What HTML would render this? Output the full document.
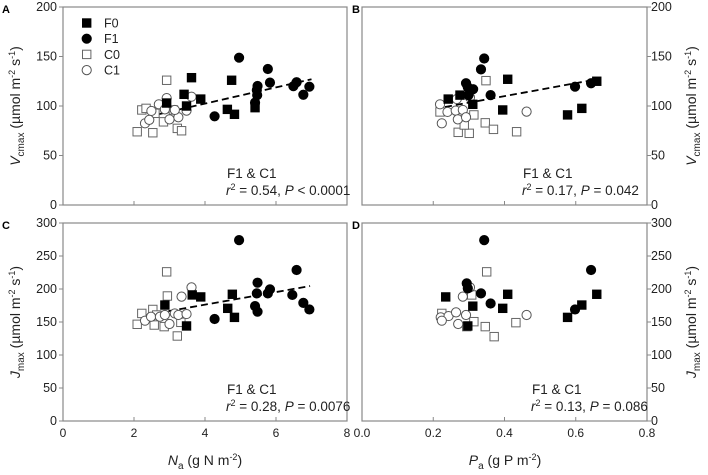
<!DOCTYPE html>
<html><head><meta charset="utf-8"><style>
body{margin:0;background:#fff;}
svg{display:block;font-family:"Liberation Sans",Arial,sans-serif;}
</style></head><body>
<svg id="chart" width="708" height="475" viewBox="0 0 708 475" xmlns="http://www.w3.org/2000/svg"></svg>
<script>
// Panel A: Vcmax vs Na
const aF0x=[3.62,3.41,3.88,3.48,4.75,4.63,4.83,5.41,2.92];
const aF0y=[128.6,111.8,107,100,126,96.6,91.6,98.3,103];
const aF1x=[4.96,4.27,5.77,5.83,5.48,5.46,5.47,5.41,6.49,6.58,6.94,6.77];
const aF1y=[148.8,89.6,137.4,123.6,120.2,116,111,103.4,120,124,119.5,111.4];
const aC0x=[2.92,2.22,2.34,2.09,2.53,2.83,3.22,3.34,2.59,3.11];
const aC0y=[126,96,97.6,74,73,84,77.4,75,92.6,96];
const aC1x=[2.92,2.70,2.49,2.31,2.43,3.0,3.25,3.62,3.48,3.15,2.87];
const aC1y=[108,101.7,95,82.5,86,86.5,88.6,109.4,95.3,96,96.6];
const aTrendX=[2.36,7.0], aTrendY=[89,127];
// Panel B: Vcmax vs Pa
const bF0x=[0.242,0.275,0.311,0.409,0.395,0.577,0.617,0.659];
const bF0y=[107,111,101.7,127,96,91,97.6,125];
const bF1x=[0.343,0.334,0.292,0.312,0.297,0.361,0.598,0.643,0.299];
const bF1y=[148,137,123,117,119,111,119.5,123,111];
const bC0x=[0.348,0.219,0.314,0.346,0.369,0.434,0.27,0.301,0.287];
const bC0y=[125.6,94,91,83,76.4,74,73.4,72.4,80.8];
const bC1x=[0.219,0.224,0.266,0.303,0.24,0.263,0.283,0.269,0.292,0.462];
const bC1y=[101.7,82.5,107,108.7,94,95.3,96,86.5,88.6,94.3];
const bTrendX=[0.233,0.66], bTrendY=[99,127];
// Panel C: Jmax vs Na
const cF0x=[2.87,3.64,3.88,3.48,4.77,4.64,4.83];
const cF0y=[175.7,191,188,144,192,170.7,157];
const cF1x=[4.96,4.27,5.48,5.46,5.41,5.48,5.77,5.83,6.46,6.58,6.77,6.94];
const cF1y=[274,154.5,209.6,193.4,174,165.6,193.4,199.5,191,228.8,179,169];
const cC0x=[2.92,2.94,2.22,2.53,2.09,2.57,2.85,3.22,3.32,2.64];
const cC0y=[226,189.4,163,169,146.5,145.4,143,128.8,149.5,160.6];
const cC1x=[3.62,3.34,2.31,2.48,2.73,3.0,3.15,3.25,3.48,2.87];
const cC1y=[202.5,188.4,152,158,158,147,163,160.6,162,160.6];
const cTrendX=[2.36,6.96], cTrendY=[160.6,204.5];
// Panel D: Jmax vs Pa
const dF0x=[0.235,0.409,0.395,0.311,0.297,0.577,0.617,0.659];
const dF0y=[188,192,170.7,174,144,157,175.7,192];
const dF1x=[0.343,0.294,0.334,0.361,0.297,0.598,0.643];
const dF1y=[274,208.6,193.4,178,201,169,228.8];
const dC0x=[0.35,0.308,0.224,0.314,0.346,0.371,0.432,0.294];
const dC0y=[226,191,163,150.5,143,127.8,149,143];
const dC1x=[0.462,0.303,0.283,0.221,0.243,0.264,0.292,0.27,0.224];
const dC1y=[160.6,202.5,188.4,157,159,164.6,160.6,147,152];
const naTicks=[0,2,4,6,8], naLabels=["0","2","4","6","8"];
const paTicks=[0,0.2,0.4,0.6,0.8], paLabels=["0.0","0.2","0.4","0.6","0.8"];
const vTicks=[0,50,100,150,200], jTicks=[0,50,100,150,200,250,300];

const svg=document.getElementById('chart');
const NS="http://www.w3.org/2000/svg";
function mk(tag,attrs,parent){const e=document.createElementNS(NS,tag);for(const k in attrs)e.setAttribute(k,attrs[k]);(parent||svg).appendChild(e);return e;}

function panel(id,x0,x1,y0,y1,xmax,ymax,xt,xl,yt,side,letter,series,trend,ann,annX){
  const g=mk('g',{});
  
  
  const sx=v=>x0+(x1-x0)*v/xmax, sy=v=>y1-(y1-y0)*v/ymax;
  const fr=mk('rect',{x:x0,y:y0,width:x1-x0,height:y1-y0,fill:'none',stroke:'#888','stroke-width':1.2},g);
  
  
  const lt=mk('text',{x:side==='left'?2:352,y:y0+6,'font-size':11,'font-weight':'bold'},g);
  lt.textContent=letter;
  
  
  xt.forEach((v,i)=>{
    mk('line',{x1:sx(v),x2:sx(v),y1:y1,y2:y1-4,stroke:'#888'},g);
    if(xl){const t=mk('text',{x:sx(v),y:y1+16,'font-size':12,'text-anchor':'middle',fill:'#222'},g);t.textContent=xl[i];
      
      }
  });
  yt.forEach(v=>{
    const ax=side==='left'?x0:x1, d=side==='left'?-4:4;
    mk('line',{x1:ax,x2:ax+d,y1:sy(v),y2:sy(v),stroke:'#888'},g);
    const t=mk('text',{x:side==='left'?x0-6:x1+4,y:sy(v)+4,'font-size':12.5,'text-anchor':side==='left'?'end':'start',fill:'#222'},g);
    t.textContent=String(v);
    
    
  });
  if(trend){const l=mk('line',{x1:sx(trend[0][0]),y1:sy(trend[1][0]),x2:sx(trend[0][1]),y2:sy(trend[1][1]),stroke:'#000','stroke-width':1.8,'stroke-dasharray':'7,4'},g);
    
    }
  series.forEach(s=>{
    s.xs.forEach((xv,i)=>{
      const cx=sx(xv), cy=sy(s.ys[i]);
      let m;
      if(s.shape==='sq') m=mk('rect',{x:cx-4.2,y:cy-4.2,width:8.4,height:8.4,fill:s.fill,stroke:s.fill==='#000'?'#000':'#666','stroke-width':1},g);
      else m=mk('circle',{cx:cx,cy:cy,r:4.6,fill:s.fill,stroke:s.fill==='#000'?'#000':'#555','stroke-width':1},g);
      
      
    });
  });
  const t1=mk('text',{x:annX,y:y1-27,'font-size':13.5,fill:'#222'},g);t1.textContent='F1 & C1';
  
  
  const t2=mk('text',{x:annX-1,y:y1-10,'font-size':13.5,fill:'#222'},g);
  t2.innerHTML='<tspan font-style="italic">r</tspan><tspan dy="-5" font-size="9">2</tspan><tspan dy="5"> = '+ann[0]+', </tspan><tspan font-style="italic">P</tspan> '+ann[1];
  
  
}
function S(xs,ys,shape,fill,name){return {xs,ys,shape,fill,name};}
panel('a',63,347,7,205,8,200,naTicks,null,vTicks,'left','A',
 [S(aC0x,aC0y,'sq','#fff','c0'),S(aC1x,aC1y,'ci','#fff','c1'),S(aF0x,aF0y,'sq','#000','f0'),S(aF1x,aF1y,'ci','#000','f1')],[aTrendX,aTrendY],['0.54','< 0.0001'],227);
panel('b',362,647,7,205,0.8,200,paTicks,null,vTicks,'right','B',
 [S(bC0x,bC0y,'sq','#fff','c0'),S(bC1x,bC1y,'ci','#fff','c1'),S(bF0x,bF0y,'sq','#000','f0'),S(bF1x,bF1y,'ci','#000','f1')],[bTrendX,bTrendY],['0.17','= 0.042'],523);
panel('c',63,347,223,421,8,300,naTicks,naLabels,jTicks,'left','C',
 [S(cC0x,cC0y,'sq','#fff','c0'),S(cC1x,cC1y,'ci','#fff','c1'),S(cF0x,cF0y,'sq','#000','f0'),S(cF1x,cF1y,'ci','#000','f1')],[cTrendX,cTrendY],['0.28','= 0.0076'],227);
panel('d',362,647,223,421,0.8,300,paTicks,paLabels,jTicks,'right','D',
 [S(dC0x,dC0y,'sq','#fff','c0'),S(dC1x,dC1y,'ci','#fff','c1'),S(dF0x,dF0y,'sq','#000','f0'),S(dF1x,dF1y,'ci','#000','f1')],null,['0.13','= 0.086'],532);

// legend
const leg=[['sq','#000','F0'],['ci','#000','F1'],['sq','#fff','C0'],['ci','#fff','C1']];
const lg=mk('g',{});


leg.forEach((L,i)=>{
  const y=23+i*15.7;
  let m;
  if(L[0]==='sq') m=mk('rect',{x:82.5,y:y-4.2,width:8.4,height:8.4,fill:L[1],stroke:L[1]==='#000'?'#000':'#666'},lg);
  else m=mk('circle',{cx:86.7,cy:y,r:4.6,fill:L[1],stroke:L[1]==='#000'?'#000':'#555'},lg);
  
  
  const t=mk('text',{x:104,y:y+4.5,'font-size':12.5,fill:'#222'},lg);t.textContent=L[2];
  
  
});
// axis titles
function ytitle(x,y,main,sub,name){
  const t=mk('text',{x:x,y:y,'font-size':14,'text-anchor':'middle',transform:'rotate(-90 '+x+' '+y+')',fill:'#222'});
  t.innerHTML='<tspan font-style="italic">'+main+'</tspan><tspan font-size="10" dy="4">'+sub+'</tspan><tspan dy="-4"> (µmol m</tspan><tspan font-size="9" dy="-5">-2</tspan><tspan dy="5"> s</tspan><tspan font-size="9" dy="-5">-1</tspan><tspan dy="5">)</tspan>';
  
  
}
ytitle(20,106,'V','cmax','y-axis-title-vcmax-left');
ytitle(696,106,'V','cmax','y-axis-title-vcmax-right');
ytitle(20,322,'J','max','y-axis-title-jmax-left');
ytitle(696,322,'J','max','y-axis-title-jmax-right');
function xtitle(x,main,el,name){
  const t=mk('text',{x:x,y:465,'font-size':14,'text-anchor':'middle',fill:'#222'});
  t.innerHTML='<tspan font-style="italic">'+main+'</tspan><tspan font-size="10" dy="4">a</tspan><tspan dy="-4"> (g '+el+' m</tspan><tspan font-size="9" dy="-5">-2</tspan><tspan dy="5">)</tspan>';
  
  
}
xtitle(205,'N','N','x-axis-title-na');
xtitle(505,'P','P','x-axis-title-pa');
</script>
</body></html>
